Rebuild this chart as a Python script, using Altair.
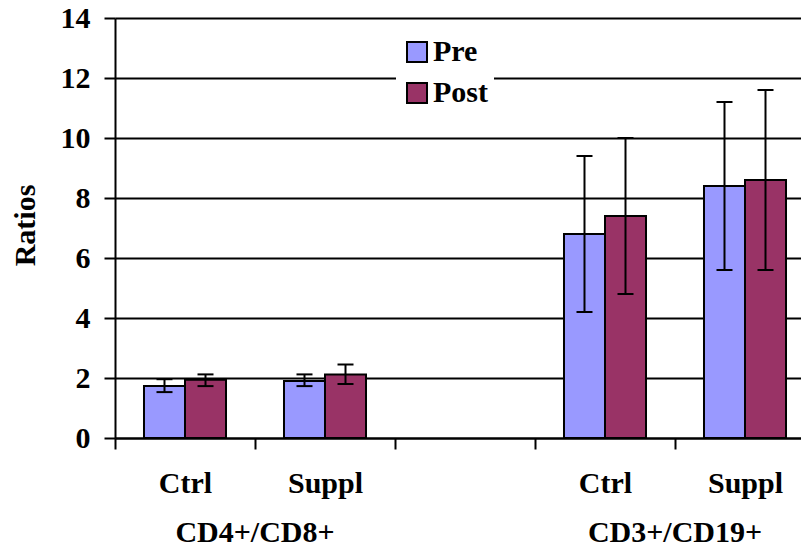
import altair as alt
import pandas as pd

# ---- data ----
slots = ["CD4+/CD8+ Ctrl", "CD4+/CD8+ Suppl", "gap", "CD3+/CD19+ Ctrl", "CD3+/CD19+ Suppl"]
tick_labels = ["Ctrl", "Suppl", "", "Ctrl", "Suppl"]
bar_slots = ["CD4+/CD8+ Ctrl", "CD4+/CD8+ Suppl", "CD3+/CD19+ Ctrl", "CD3+/CD19+ Suppl"]
pre = [1.73, 1.90, 6.80, 8.40]
pre_lo = [1.53, 1.73, 4.20, 5.60]
pre_hi = [1.96, 2.12, 9.40, 11.20]
post = [1.94, 2.12, 7.40, 8.60]
post_lo = [1.73, 1.80, 4.80, 5.60]
post_hi = [2.12, 2.45, 10.00, 11.60]
series = ["Pre", "Post"]
colors = ["#9999FF", "#993366"]
groups = ["CD4+/CD8+", "CD3+/CD19+"]
group_anchor = ["CD4+/CD8+ Suppl", "CD3+/CD19+ Suppl"]
y_ticks = [0, 2, 4, 6, 8, 10, 12, 14]

rows = []
for i, s in enumerate(bar_slots):
    rows.append({"slot": s, "series": "Pre", "value": pre[i], "lo": pre_lo[i], "hi": pre_hi[i]})
    rows.append({"slot": s, "series": "Post", "value": post[i], "lo": post_lo[i], "hi": post_hi[i]})
df = pd.DataFrame(rows)
caps = pd.concat([
    df[["slot", "series", "lo"]].rename(columns={"lo": "cap"}),
    df[["slot", "series", "hi"]].rename(columns={"hi": "cap"}),
])
gdf = pd.DataFrame({"slot": group_anchor, "group": groups})

FONT = "Liberation Serif"
FS = 30

label_expr = " : ".join(
    f"datum.value == '{s}' ? '{t}'" for s, t in zip(slots, tick_labels)
) + " : ''"

x_scale = alt.Scale(domain=slots, range=[0, 700], paddingInner=0, paddingOuter=0)
x_enc = alt.X(
    "slot:N", scale=x_scale, title=None,
    axis=alt.Axis(labelExpr=label_expr, tickBand="extent", labelAngle=0,
                  domainColor="black", domainWidth=2, tickColor="black",
                  tickWidth=2, tickSize=11, labelPadding=19, grid=False,
                  labelFont=FONT, labelFontSize=FS, labelFontWeight="bold",
                  labelColor="black"),
)
y_scale = alt.Scale(domain=[0, 14], nice=False)
off_scale = alt.Scale(domain=series, paddingInner=0, paddingOuter=0.707)

bars = alt.Chart(df).mark_bar(stroke="black", strokeWidth=2).encode(
    x=x_enc,
    xOffset=alt.XOffset("series:N", scale=off_scale),
    y=alt.Y("value:Q", scale=y_scale, title="Ratios",
            axis=alt.Axis(values=y_ticks, domainColor="black", domainWidth=2,
                          tickColor="black", tickWidth=2, tickSize=11,
                          labelPadding=14, gridColor="black", gridWidth=2,
                          gridOpacity=1,
                          labelFont=FONT, labelFontSize=FS, labelFontWeight="bold",
                          labelColor="black", titleFont=FONT, titleFontSize=FS,
                          titleFontWeight="bold", titleColor="black",
                          titleX=-81, titleY=207, titleAlign="center",
                          titleBaseline="alphabetic", titleAngle=270)),
    color=alt.Color("series:N", scale=alt.Scale(domain=series, range=colors),
                    title=None,
                    legend=alt.Legend(orient="none", legendX=281, legendY=13,
                                      fillColor="white", padding=6,
                                      rowPadding=11, symbolType="square",
                                      symbolSize=400, symbolStrokeColor="black",
                                      symbolStrokeWidth=2, symbolOpacity=1,
                                      labelFont=FONT, labelFontSize=FS,
                                      labelFontWeight="bold", labelColor="black",
                                      labelOffset=1)),
)

rules = alt.Chart(df).mark_rule(color="black", strokeWidth=2).encode(
    x=alt.X("slot:N", scale=x_scale),
    xOffset=alt.XOffset("series:N", scale=off_scale),
    y=alt.Y("lo:Q", scale=y_scale),
    y2="hi:Q",
)
ticks = alt.Chart(caps).mark_tick(color="black", thickness=2, size=16, opacity=1).encode(
    x=alt.X("slot:N", scale=x_scale),
    xOffset=alt.XOffset("series:N", scale=off_scale),
    y=alt.Y("cap:Q", scale=y_scale),
)
glabels = alt.Chart(gdf).mark_text(
    font=FONT, fontSize=FS, fontWeight="bold", color="black",
    align="center", baseline="alphabetic",
).encode(
    x=alt.X("slot:N", scale=x_scale, bandPosition=0),
    y=alt.value(524),
    text="group:N",
)

chart = alt.layer(bars, rules, ticks, glabels).properties(
    width=686, height=420,
    autosize=alt.AutoSizeParams(type="none"),
    padding={"left": 115, "top": 18, "right": 0, "bottom": 110},
).configure_view(strokeWidth=0)

chart.save("out.html", embed_options={"renderer": "svg", "actions": False})
